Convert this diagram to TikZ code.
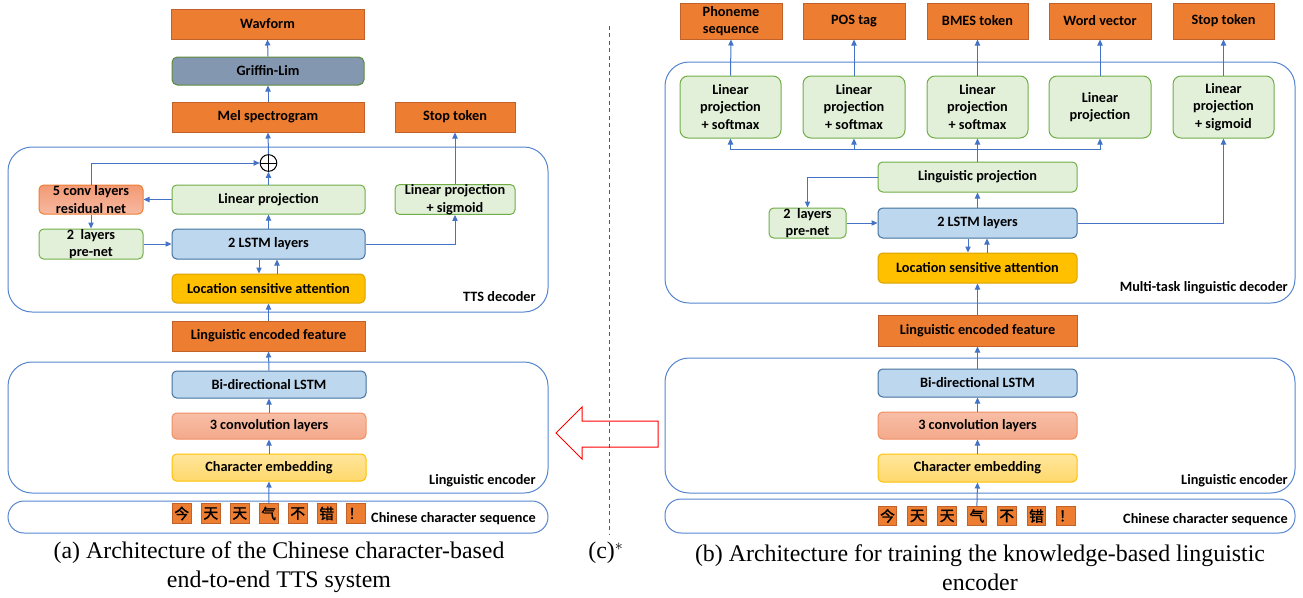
\documentclass[tikz,border=0pt]{standalone}
\usepackage{fontspec}
\setmainfont{Carlito}
\newfontfamily\capfont{Liberation Serif}
\newfontfamily\cjk[FakeBold=1.6]{Noto Sans CJK SC}
\usetikzlibrary{arrows.meta,calc}

\definecolor{orF}{HTML}{ED7D31}
\definecolor{orD}{HTML}{C0622A}
\definecolor{gbF}{HTML}{8497B0}
\definecolor{gbD}{HTML}{5E8A3C}
\definecolor{grF}{HTML}{E2F0D9}
\definecolor{grD}{HTML}{70AD47}
\definecolor{blF}{HTML}{BDD7EE}
\definecolor{blD}{HTML}{41719C}
\definecolor{goF}{HTML}{FFC000}
\definecolor{goD}{HTML}{D9A200}
\definecolor{cvT}{HTML}{F7BEA6}
\definecolor{cvB}{HTML}{F4A98B}
\definecolor{cvD}{HTML}{F08E62}
\definecolor{rsT}{HTML}{F39A74}
\definecolor{rsB}{HTML}{F6B9A1}
\definecolor{emT}{HTML}{FFE69C}
\definecolor{emB}{HTML}{FFD86C}
\definecolor{arB}{HTML}{4472C4}
\definecolor{ctB}{HTML}{5585CF}

\tikzset{
  every node/.style={font=\bfseries\fontsize{10.7}{13.1}\selectfont, align=center, inner sep=0pt},
  bx/.style={line width=0.75pt},
  outbox/.style={bx, fill=orF, draw=orD},
  gbbox/.style={bx, fill=gbF, draw=gbD, rounded corners=4pt},
  grbox/.style={bx, fill=grF, draw=grD, rounded corners=3.5pt},
  headbox/.style={bx, fill=grF, draw=grD, rounded corners=6pt},
  blbox/.style={bx, fill=blF, draw=blD, rounded corners=3.5pt},
  gobox/.style={bx, fill=goF, draw=goD, rounded corners=3.5pt},
  cvbox/.style={bx, top color=cvT, bottom color=cvB, draw=cvD, rounded corners=3.5pt},
  resbox/.style={bx, top color=rsT, bottom color=rsB, draw=orF, rounded corners=3.5pt},
  embox/.style={bx, top color=emT, bottom color=emB, draw=goF, rounded corners=3.5pt},
  chbox/.style={bx, fill=orF, draw=orD, minimum width=14pt, minimum height=14.6pt,
    font=\cjk\fontsize{11}{11}\selectfont},
  cont/.style={draw=ctB, line width=0.75pt, rounded corners=18pt},
  pill/.style={draw=ctB, line width=0.75pt, rounded corners=12pt},
  arr/.style={draw=arB, line width=0.75pt, -{Triangle[length=4.5pt,width=4pt]}},
  wire/.style={draw=arB, line width=0.75pt},
  tag/.style={anchor=east},
  caption/.style={font=\capfont\fontsize{17.9}{21.75}\selectfont, align=center},
}

% \boxnode{style}{name}{x1}{y1}{x2}{y2}{text}: a box spanning the two corners (pixel units)
\newcommand\boxnode[7]{%
  \node[#1, minimum width={(#5-#3)*0.75pt}, minimum height={(#6-#4)*0.75pt}]
    (#2) at ({(#3+#5)/2},{(#4+#6)/2}) {#7};}

\begin{document}
\begin{tikzpicture}[x=0.75pt,y=-0.75pt]
\useasboundingbox (0,0) rectangle (1303,597);

% ---------------- (a) end-to-end TTS system ----------------
\boxnode{outbox}{wav}{171}{9}{364}{39}{Wavform}
\boxnode{gbbox}{grif}{172}{57}{364}{85}{Griffin-Lim}
\boxnode{outbox}{mel}{172}{102}{364}{132}{Mel spectrogram}
\boxnode{outbox}{stopL}{395}{102}{515}{132}{Stop token}

\draw[cont] (8,147) rectangle (548,312);
\node[circle, draw=black, line width=0.75pt, minimum size=12.5pt] (oplus) at (268.5,163) {};
\draw[line width=0.75pt] (oplus.north) -- (oplus.south) (oplus.west) -- (oplus.east);
\boxnode{resbox}{res}{39}{185}{143}{214}{5 conv layers\\residual net}
\boxnode{grbox}{linL}{172}{185}{365}{214}{Linear projection}
\boxnode{grbox}{sigL}{395}{185}{515}{214}{Linear projection\\+ sigmoid}
\boxnode{grbox}{preL}{39}{229}{143}{259}{2~~layers\\pre-net}
\boxnode{blbox}{lstmL}{172}{229}{365}{259}{2 LSTM layers}
\boxnode{gobox}{attL}{172}{274}{365}{303}{Location sensitive attention}
\node[tag] (tdL) at (536,297) {TTS decoder};

\boxnode{outbox}{lefL}{172}{321}{365}{351}{Linguistic encoded feature}

\draw[cont] (8,362) rectangle (548,493);
\boxnode{blbox}{bilL}{172}{371}{366}{398}{Bi-directional LSTM}
\boxnode{cvbox}{convL}{172}{413}{366}{439}{3 convolution layers}
\boxnode{embox}{embL}{172}{454}{366}{481}{Character embedding}
\node[tag] (encL) at (536,481) {Linguistic encoder};

\draw[pill] (8,501) rectangle (548,533);
\foreach \i/\c in {1/今,2/天,3/天,4/气,5/不,6/错,7/！}
  \node[chbox] (lc\i) at ({181.75+29*(\i-1)},513.5) {\c};
\node[tag] (seqL) at (536,519) {Chinese character sequence};

% connectors of (a)
\draw[arr] (grif.north) -- (wav.south);
\draw[arr] (mel.north) -- (grif.south);
\draw[arr] (oplus.north) -- (mel.south);
\draw[arr] (linL.north) -- (oplus.south);
\draw[arr] (res.north) |- (oplus.west);
\draw[arr] (linL.west) -- (res.east);
\draw[arr] (res.south) -- (preL.north);
\draw[arr] (preL.east) -- (lstmL.west);
\draw[arr] (lstmL.north) -- (linL.south);
\draw[arr] (lstmL.east) -| (sigL.south);
\draw[arr] (sigL.north) -- (stopL.south);
\draw[arr] ($(lstmL.south)+(-9.5,0)$) -- ($(attL.north)+(-9.5,0)$);
\draw[arr] ($(attL.north)+(8.5,0)$) -- ($(lstmL.south)+(8.5,0)$);
\draw[arr] (lefL.north) -- (attL.south);
\draw[arr] (bilL.north) -- (lefL.south);
\draw[arr] (convL.north) -- (bilL.south);
\draw[arr] (embL.north) -- (convL.south);
\draw[arr] (lc4.north) -- (embL.south);

\node[caption] (capA) at (279,567.5) {(a) Architecture of the Chinese character-based\\end-to-end TTS system};

% ---------------- (c) transfer arrow ----------------
\coordinate (dashTop) at (609.7,26);
\coordinate (dashBot) at (609.7,534);
\draw[black!65, line width=0.75pt, dash pattern=on 3pt off 2.6pt] (dashTop) -- (dashBot);
\draw[red, line width=0.75pt] (556,433) -- (582,407) -- (582,421) -- (658,421)
  -- (658,447) -- (582,447) -- (582,459) -- cycle;
\node[caption] (capC) at (606,553) {(c)$^{*}$};

% ---------------- (b) knowledge-based linguistic encoder ----------------
\boxnode{outbox}{ph}{680}{3}{782}{39}{Phoneme\\sequence}
\boxnode{outbox}{pos}{803}{3}{905}{39}{POS tag}
\boxnode{outbox}{bmes}{927}{3}{1028}{39}{BMES token}
\boxnode{outbox}{wv}{1049}{3}{1151}{39}{Word vector}
\boxnode{outbox}{stopR}{1173}{3}{1274}{39}{Stop token}

\draw[cont] (665,62) rectangle (1295,303);
\boxnode{headbox}{h1}{680}{76}{781}{138}{Linear\\projection\\+ softmax}
\boxnode{headbox}{h2}{803}{76}{905}{138}{Linear\\projection\\+ softmax}
\boxnode{headbox}{h3}{927}{76}{1028}{138}{Linear\\projection\\+ softmax}
\boxnode{headbox}{h4}{1049}{76}{1151}{138}{Linear\\projection}
\boxnode{headbox}{h5}{1173}{76}{1274}{138}{Linear\\projection\\+ sigmoid}
\boxnode{grbox}{lp}{878}{162}{1077}{192}{Linguistic projection}
\boxnode{grbox}{preR}{769}{208}{846}{238}{2~~layers\\pre-net}
\boxnode{blbox}{lstmR}{878}{208}{1077}{238}{2 LSTM layers}
\boxnode{gobox}{attR}{878}{253}{1077}{283}{Location sensitive attention}
\node[tag] (mtd) at (1288,288) {Multi-task linguistic decoder};

\boxnode{outbox}{lefR}{878}{315}{1077}{346}{Linguistic encoded feature}

\draw[cont] (665,358) rectangle (1295,493);
\boxnode{blbox}{bilR}{878}{369}{1077}{397}{Bi-directional LSTM}
\boxnode{cvbox}{convR}{878}{412}{1077}{439}{3 convolution layers}
\boxnode{embox}{embR}{878}{454}{1077}{482}{Character embedding}
\node[tag] (encR) at (1288,481) {Linguistic encoder};

\draw[pill] (665,499) rectangle (1295,533);
\foreach \i/\c in {1/今,2/天,3/天,4/气,5/不,6/错,7/！}
  \node[chbox] (rc\i) at ({887.5+29.8*(\i-1)},516) {\c};
\node[tag] (seqR) at (1288,520) {Chinese character sequence};

% connectors of (b)
\draw[arr] (h1.north) -- (ph.south);
\draw[arr] (h2.north) -- (pos.south);
\draw[arr] (h3.north) -- (bmes.south);
\draw[arr] (h4.north) -- (wv.south);
\draw[arr] (h5.north) -- (stopR.south);
\path (lp.north) ++(0,-12) coordinate (bus);
\draw[wire] (lp.north) -- (bus);
\draw[arr] (bus) -| (h1.south);
\draw[arr] (bus) -| (h2.south);
\draw[arr] (bus) -- (h3.south);
\draw[arr] (bus) -| (h4.south);
\draw[arr] (lp.west) -| (preR.north);
\draw[arr] (preR.east) -- (lstmR.west);
\draw[arr] (lstmR.north) -- (lp.south);
\draw[arr] (lstmR.east) -| (h5.south);
\draw[arr] ($(lstmR.south)+(-9.5,0)$) -- ($(attR.north)+(-9.5,0)$);
\draw[arr] ($(attR.north)+(9.5,0)$) -- ($(lstmR.south)+(9.5,0)$);
\draw[arr] (lefR.north) -- (attR.south);
\draw[arr] (bilR.north) -- (lefR.south);
\draw[arr] (convR.north) -- (bilR.south);
\draw[arr] (embR.north) -- (convR.south);
\draw[arr] (rc4.north) -- (embR.south);

\node[caption] (capB) at (980,567.5) {(b) Architecture for training the knowledge-based linguistic\\encoder};
\end{tikzpicture}
\end{document}
